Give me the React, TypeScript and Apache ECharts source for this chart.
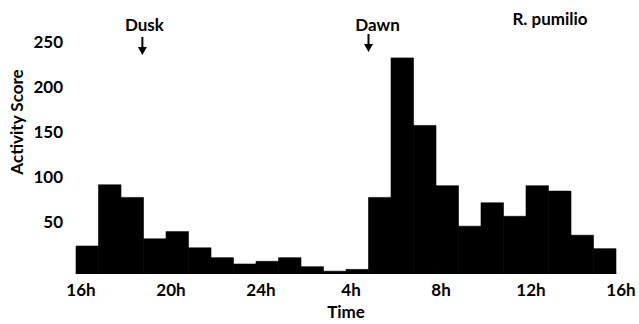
import React, { useEffect, useRef } from "react";
import * as echarts from "echarts";

// Hourly activity scores, starting at 16h and running 24 hours
const hourIndex = [0, 1, 2, 3, 4, 5, 6, 7, 8, 9, 10, 11, 12, 13, 14, 15, 16, 17, 18, 19, 20, 21, 22, 23];
const activity = [30, 98, 84, 38, 46, 28, 17, 10, 13, 17, 7, 2, 4, 84, 239, 164, 97, 52, 78, 63, 97, 91, 42, 27];
const xTickLabels = ["16h", "20h", "24h", "4h", "8h", "12h", "16h"];
const yTickLabels = [50, 100, 150, 200, 250];
const duskHour = 2.95;
const dawnHour = 13.0;

const FONT = "Lato";

export default function App() {
  const ref = useRef<HTMLDivElement>(null);

  useEffect(() => {
    document.body.style.margin = "0";
    if (!ref.current) return;
    const chart = echarts.init(ref.current, undefined, { renderer: "svg" });
    const data = hourIndex.map((h, i) => [h, activity[i]]);
    chart.setOption({
      animation: false,
      backgroundColor: "#fff",
      grid: { left: 76, right: 23, top: 39, bottom: 51, containLabel: false, outerBoundsMode: "none" },
      xAxis: {
        type: "value",
        min: 0,
        max: 24,
        interval: 4,
        axisLine: { show: true, lineStyle: { color: "#000", width: 1 } },
        axisTick: { show: false },
        splitLine: { show: false },
        axisLabel: {
          color: "#000",
          fontFamily: FONT,
          fontWeight: 700,
          fontSize: 17,
          margin: 8,
          padding: [0, 0, 0, 10],
          formatter: (v: number) => xTickLabels[Math.round(v / 4)] ?? "",
        },
        name: "Time",
        nameLocation: "middle",
        nameGap: 28,
        nameTextStyle: { color: "#000", fontFamily: FONT, fontWeight: 700, fontSize: 17 },
      },
      yAxis: {
        type: "value",
        min: 0,
        max: 260,
        interval: 50,
        axisLine: { show: false },
        axisTick: { show: false },
        splitLine: { show: false },
        axisLabel: {
          color: "#000",
          fontFamily: FONT,
          fontWeight: 700,
          fontSize: 17,
          margin: 13,
          verticalAlign: "bottom",
          lineHeight: 14,
          formatter: (v: number) => (yTickLabels.indexOf(v) >= 0 ? String(v) : ""),
        },
      },
      series: [
        {
          type: "custom",
          data,
          encode: { x: 0, y: 1 },
          renderItem: (params: any, api: any) => {
            const i = api.value(0);
            const v = api.value(1);
            const p0 = api.coord([i, v]);
            const p1 = api.coord([i + 1, 0]);
            return {
              type: "rect",
              shape: { x: p0[0], y: p0[1], width: p1[0] - p0[0], height: p1[1] - p0[1] },
              style: { fill: "#000", stroke: "#000", lineWidth: 0.6 },
            };
          },
        },
      ],
    });

    const duskX = chart.convertToPixel({ gridIndex: 0 }, [duskHour, 0])[0];
    const dawnX = chart.convertToPixel({ gridIndex: 0 }, [dawnHour, 0])[0];
    const textStyle = { fill: "#000", fontFamily: FONT, fontWeight: 700, fontSize: 17 };
    const arrow = (x: number, y0: number, y1: number) => [
      { type: "line", shape: { x1: x, y1: y0, x2: x, y2: y1 - 5 }, style: { stroke: "#000", lineWidth: 2 } },
      {
        type: "polygon",
        shape: { points: [[x - 4.5, y1 - 8], [x + 4.5, y1 - 8], [x, y1]] },
        style: { fill: "#000" },
      },
    ];
    chart.setOption({
      graphic: [
        { type: "text", x: duskX + 2, y: 24, style: { ...textStyle, text: "Dusk", align: "center", verticalAlign: "middle" } },
        ...arrow(duskX, 37, 55),
        { type: "text", x: dawnX + 9, y: 24, style: { ...textStyle, text: "Dawn", align: "center", verticalAlign: "middle" } },
        ...arrow(dawnX, 34, 52),
        { type: "text", x: 550, y: 18, style: { ...textStyle, text: "R. pumilio", align: "center", verticalAlign: "middle" } },
        {
          type: "text",
          x: 16,
          y: 122,
          rotation: Math.PI / 2,
          style: { ...textStyle, text: "Activity Score", align: "center", verticalAlign: "middle" },
        },
      ],
    });

    return () => chart.dispose();
  }, []);

  return <div ref={ref} style={{ width: 639, height: 324 }} />;
}
